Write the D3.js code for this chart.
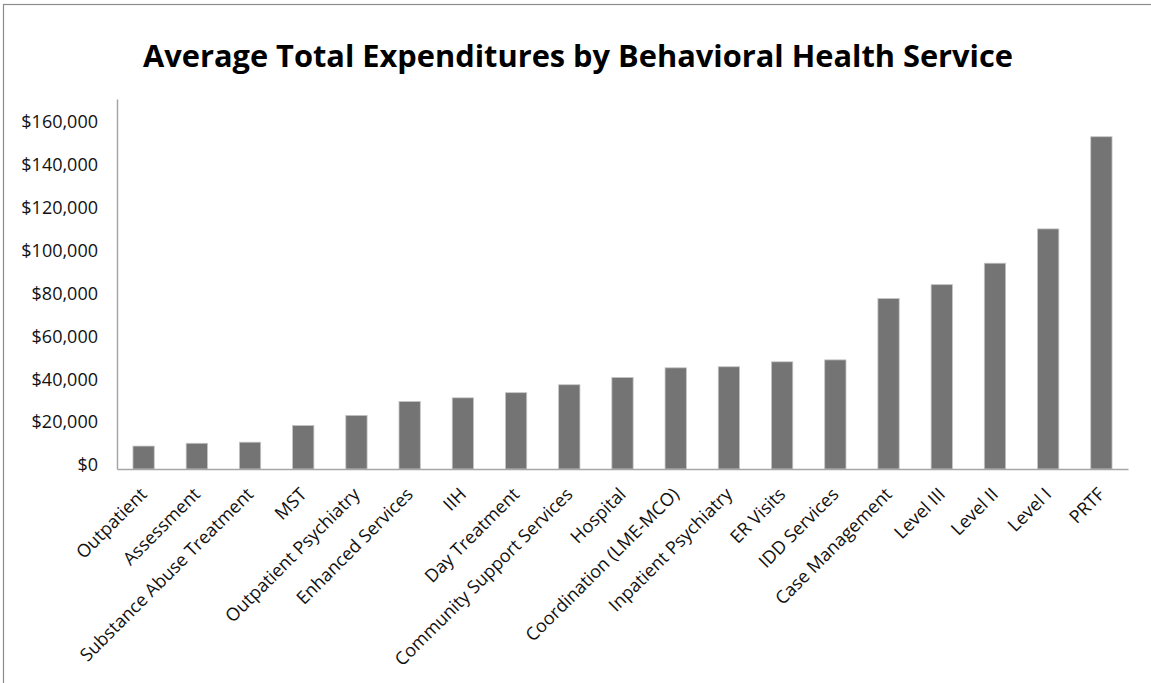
<!DOCTYPE html>
<html>
<head>
<meta charset="utf-8">
<script src="https://cdn.jsdelivr.net/npm/d3@7"></script>
<style>
  html, body { margin: 0; padding: 0; background: #fff; }
  svg { display: block; }
  text { font-family: "Open Sans", "Noto Sans", sans-serif; }
</style>
</head>
<body>
<svg id="chart" width="1151" height="683"></svg>
<script>
// Average total expenditure per service, sorted ascending
const categories = [
  "Outpatient", "Assessment", "Substance Abuse Treatment", "MST",
  "Outpatient Psychiatry", "Enhanced Services", "IIH", "Day Treatment",
  "Community Support Services", "Hospital", "Coordination (LME-MCO)",
  "Inpatient Psychiatry", "ER Visits", "IDD Services", "Case Management",
  "Level III", "Level II", "Level I", "PRTF"
];
const expenditures = [
  10700, 12000, 12500, 20300, 25000, 31500, 33200, 35600, 39300, 42700,
  47200, 47700, 50000, 50900, 79500, 86000, 96000, 112000, 155000
];
const yTicks = [0, 20000, 40000, 60000, 80000, 100000, 120000, 140000, 160000];
const yMax = 172600;
const title = "Average Total Expenditures by Behavioral Health Service";

const svg = d3.select("#chart");
const W = 1151, H = 683;
const plot = { left: 117, right: 1128, top: 99, bottom: 469 };

// outer frame
svg.append("rect")
  .attr("x", 3.5).attr("y", 4.5)
  .attr("width", W + 10).attr("height", H + 10)
  .attr("fill", "#fff").attr("stroke", "#8c8c8c").attr("stroke-width", 1.2);

// title
svg.append("text")
  .attr("x", 578).attr("y", 67)
  .attr("text-anchor", "middle")
  .attr("font-size", 31).attr("font-weight", 700).attr("fill", "#000")
  .attr("textLength", 870).attr("lengthAdjust", "spacingAndGlyphs")
  .text(title);

const x = d3.scaleBand()
  .domain(categories)
  .range([plot.left, plot.right])
  .paddingInner(0.6)
  .paddingOuter(0.3);

const y = d3.scaleLinear()
  .domain([0, yMax])
  .range([plot.bottom, plot.top]);

// bars
svg.append("g")
  .selectAll("rect")
  .data(categories)
  .join("rect")
  .attr("x", d => x(d))
  .attr("width", x.bandwidth())
  .attr("y", (d, i) => y(expenditures[i]))
  .attr("height", (d, i) => y(0) - y(expenditures[i]))
  .attr("fill", "#747474")
  .attr("stroke", "#c4c4c4")
  .attr("stroke-width", 0.8);

// y axis
const yAxis = d3.axisLeft(y)
  .tickValues(yTicks)
  .tickSize(0)
  .tickPadding(19)
  .tickFormat(d => "$" + d3.format(",")(d));
const gy = svg.append("g")
  .attr("transform", `translate(${plot.left},0)`)
  .call(yAxis);
gy.select(".domain").attr("stroke", "#a6a6a6").attr("stroke-width", 1.5);
gy.selectAll("text")
  .attr("font-size", 18)
  .attr("fill", "#111")
  .attr("dy", "0.1em");

// x axis with rotated category labels
const xAxis = d3.axisBottom(x).tickSize(0).tickPadding(0);
const gx = svg.append("g")
  .attr("transform", `translate(0,${plot.bottom})`)
  .call(xAxis);
gx.select(".domain").attr("stroke", "#a6a6a6").attr("stroke-width", 1.5);
gx.selectAll("text")
  .attr("font-size", 18)
  .attr("fill", "#111")
  .attr("text-anchor", "end")
  .attr("dy", "0.35em")
  .attr("transform", "translate(0,22) rotate(-45)");
</script>
</body>
</html>
